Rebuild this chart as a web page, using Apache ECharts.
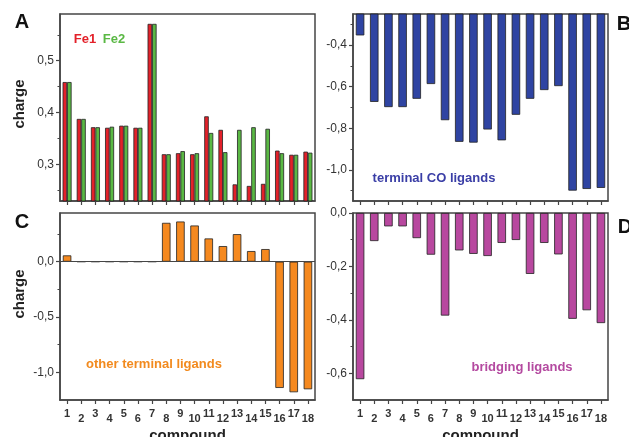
<!DOCTYPE html>
<html>
<head>
<meta charset="utf-8">
<script src="https://cdn.jsdelivr.net/npm/echarts@6/dist/echarts.min.js"></script>
<style>html,body{margin:0;padding:0;background:#fff}#c{width:629px;height:437px}</style>
</head>
<body>
<div id="c"></div>
<script>
var categories = ['1','2','3','4','5','6','7','8','9','10','11','12','13','14','15','16','17','18'];
var fe1 = [0.459,0.388,0.372,0.371,0.375,0.371,0.571,0.320,0.322,0.320,0.393,0.367,0.262,0.259,0.263,0.327,0.319,0.325];
var fe2 = [0.459,0.388,0.372,0.373,0.375,0.371,0.571,0.320,0.326,0.322,0.361,0.324,0.367,0.372,0.369,0.322,0.319,0.323];
var terminalCO = [-0.353,-0.673,-0.698,-0.698,-0.658,-0.587,-0.761,-0.865,-0.869,-0.806,-0.858,-0.735,-0.658,-0.616,-0.597,-1.100,-1.092,-1.087];
var otherTerminal = [0.057,0,0,0,0,0,0,0.351,0.363,0.327,0.210,0.141,0.249,0.096,0.114,-1.141,-1.180,-1.153];
var bridging = [-0.622,-0.105,-0.050,-0.050,-0.094,-0.156,-0.384,-0.140,-0.153,-0.161,-0.112,-0.101,-0.228,-0.112,-0.155,-0.396,-0.364,-0.412];
var ticksA = [0.3,0.4,0.5], minorA = [0.25,0.35,0.45,0.55];
var ticksB = [-1.0,-0.8,-0.6,-0.4], minorB = [-1.1,-0.9,-0.7,-0.5,-0.3];
var ticksC = [-1.0,-0.5,0.0], minorC = [-0.75,-0.25,0.25];
var ticksD = [-0.6,-0.4,-0.2,0.0], minorD = [-0.5,-0.3,-0.1];

var FONT = '"Liberation Sans", Arial, sans-serif';
var AX = '#454545';
var chart = echarts.init(document.getElementById('c'), null, {renderer: 'canvas'});

var grids = [
  {left: 60, top: 14, width: 255, height: 187},
  {left: 353, top: 14, width: 255, height: 187},
  {left: 60, top: 213, width: 255, height: 187},
  {left: 353, top: 213, width: 255, height: 187}
].map(function (g) {
  return Object.assign({show: true, borderColor: AX, borderWidth: 1.5, backgroundColor: 'transparent', containLabel: false, outerBoundsMode: 'none'}, g);
});

function xAx(i, showLabels) {
  return {
    type: 'category', gridIndex: i, data: categories, boundaryGap: true,
    axisLine: {show: true, onZero: false, lineStyle: {color: AX, width: 1.5}},
    axisTick: {show: true, alignWithLabel: true, inside: false, length: 4, lineStyle: {color: AX, width: 1.2}},
    axisLabel: {
      show: showLabels, interval: 0, margin: 8, fontFamily: FONT, fontSize: 11, fontWeight: 'bold', color: '#333',
      formatter: function (v, idx) { return idx % 2 === 0 ? '{o|' + v + '}' : '{e|' + v + '}'; },
      rich: {
        o: {fontFamily: FONT, fontSize: 11, fontWeight: 'bold', color: '#333', padding: [0, 0, 0, 0]},
        e: {fontFamily: FONT, fontSize: 11, fontWeight: 'bold', color: '#333', padding: [5, 0, 0, 0]}
      }
    },
    name: showLabels ? 'compound' : '', nameLocation: 'middle', nameGap: 28,
    nameTextStyle: {fontFamily: FONT, fontSize: 15, fontWeight: 'bold', color: '#222'},
    splitLine: {show: false}
  };
}
function fmt(v) { return (Math.abs(v) < 1e-9 ? 0 : v).toFixed(1).replace('.', ','); }
function yAx(i, min, max, ticks) {
  return {
    type: 'value', gridIndex: i, min: min, max: max, position: 'left',
    axisLine: {show: true, lineStyle: {color: AX, width: 1.5}},
    axisTick: {show: true, inside: false, length: 4, customValues: ticks, lineStyle: {color: AX, width: 1.2}},
    axisLabel: {show: true, customValues: ticks, formatter: fmt, margin: 6, fontFamily: FONT, fontSize: 12, color: '#333'},
    splitLine: {show: false}
  };
}
function yMinor(i, min, max, ticks) {
  return {
    type: 'value', gridIndex: i, min: min, max: max, position: 'left', offset: 0,
    axisLine: {show: false},
    axisTick: {show: true, inside: false, length: 2.5, customValues: ticks, lineStyle: {color: AX, width: 1}},
    axisLabel: {show: false},
    splitLine: {show: false}
  };
}

var border = {borderColor: '#222', borderWidth: 0.8};
function bar(name, xi, yi, data, color, width, extra) {
  return Object.assign({
    name: name, type: 'bar', xAxisIndex: xi, yAxisIndex: yi, data: data, barWidth: width, barGap: '0%',
    itemStyle: Object.assign({color: color}, border), clip: true, silent: true, animation: false
  }, extra || {});
}

var texts = [
  {t: 'A', x: 22, y: 22, s: 20, c: '#111'},
  {t: 'B', x: 624, y: 24, s: 20, c: '#111'},
  {t: 'C', x: 22, y: 222, s: 20, c: '#111'},
  {t: 'D', x: 625, y: 227, s: 20, c: '#111'},
  {t: 'Fe1', x: 85, y: 39, s: 13, c: '#e3212a'},
  {t: 'Fe2', x: 114, y: 39, s: 13, c: '#5ab844'},
  {t: 'terminal CO ligands', x: 434, y: 178, s: 13, c: '#3a3ea6'},
  {t: 'other terminal ligands', x: 154, y: 364, s: 13, c: '#f28a1e'},
  {t: 'bridging ligands', x: 522, y: 367, s: 13, c: '#b44aa0'}
];
var graphic = texts.map(function (o) {
  return {type: 'text', x: o.x, y: o.y, style: {text: o.t, fill: o.c, font: 'bold ' + o.s + 'px ' + FONT, textAlign: 'center', textVerticalAlign: 'middle'}};
});
graphic.push({type: 'text', x: 20, y: 104, rotation: Math.PI / 2, style: {text: 'charge', fill: '#222', font: 'bold 15px ' + FONT, textAlign: 'center', textVerticalAlign: 'middle'}});
graphic.push({type: 'text', x: 20, y: 294, rotation: Math.PI / 2, style: {text: 'charge', fill: '#222', font: 'bold 15px ' + FONT, textAlign: 'center', textVerticalAlign: 'middle'}});

chart.setOption({
  animation: false,
  textStyle: {fontFamily: FONT},
  grid: grids,
  xAxis: [xAx(0, false), xAx(1, false), xAx(2, true), xAx(3, true)],
  yAxis: [
    yAx(0, 0.23, 0.59, ticksA), yAx(1, -1.15, -0.25, ticksB), yAx(2, -1.25, 0.44, ticksC), yAx(3, -0.7, 0, ticksD),
    yMinor(0, 0.23, 0.59, minorA), yMinor(1, -1.15, -0.25, minorB), yMinor(2, -1.25, 0.44, minorC), yMinor(3, -0.7, 0, minorD)
  ],
  series: [
    bar('Fe1', 0, 0, fe1, '#e3212a', 4.5),
    bar('Fe2', 0, 0, fe2, '#5ab844', 4.5),
    bar('terminal CO ligands', 1, 1, terminalCO, '#2f44a2', 8.5),
    bar('other terminal ligands', 2, 2, otherTerminal, '#f5891f', 8.5, {
      markLine: {silent: true, symbol: 'none', label: {show: false}, lineStyle: {color: AX, width: 1.2, type: 'solid'}, data: [{yAxis: 0}]}
    }),
    bar('bridging ligands', 3, 3, bridging, '#b8489f', 8.5)
  ],
  graphic: graphic
});
</script>
</body>
</html>
